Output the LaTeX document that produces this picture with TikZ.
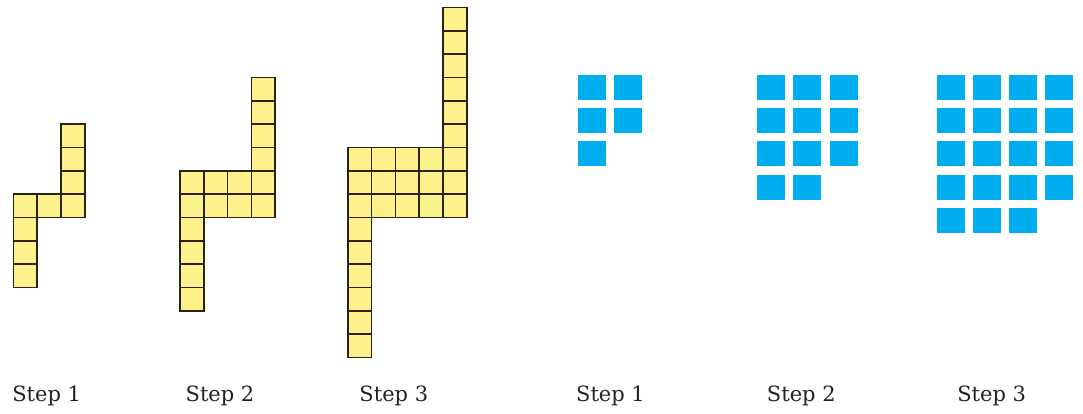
\documentclass[tikz,border=0pt]{standalone}
\usepackage{fontspec}
\setmainfont{DejaVu Serif}
\definecolor{tile}{HTML}{FDF18C}
\definecolor{tileedge}{HTML}{2B2212}
\definecolor{dot}{HTML}{00AEEF}
\definecolor{txt}{HTML}{222222}
\tikzset{
  ytile/.style={fill=tile,draw=tileedge,line width=1.6pt},
  btile/.style={fill=dot},
  lab/.style={font=\fontsize{21}{25}\selectfont,text=txt,anchor=base,inner sep=0pt}
}
\begin{document}
\begin{tikzpicture}[x=1pt,y=-1pt]
\useasboundingbox (0,0) rectangle (1083,413);
% yellow tile patterns
\foreach \x/\C/\B/\A in {13.3/3/1/3, 180/4/2/4, 347.7/5/3/6} {
  \foreach \c in {1,...,\C} {
    \foreach \b in {1,...,\B} {
      \draw[ytile] ({\x+(\c-1)*23.8},{217.5-\b*23.35}) rectangle ++(23.8,23.35);
    }
  }
  \foreach \a in {1,...,\A} {
    \draw[ytile] ({\x+(\C-1)*23.8},{217.5-(\B+\a)*23.35}) rectangle ++(23.8,23.35);
    \draw[ytile] (\x,{217.5+(\a-1)*23.35}) rectangle ++(23.8,23.35);
  }
}
% blue tile patterns
\foreach \r/\n in {0/2,1/2,2/1} {
  \foreach \c in {1,...,\n} {
    \fill[btile] ({577.7+(\c-1)*36.3},{75+\r*33.2}) rectangle ++(28.2,25);
  }
}
\foreach \r/\n in {0/3,1/3,2/3,3/2} {
  \foreach \c in {1,...,\n} {
    \fill[btile] ({756.7+(\c-1)*36.5},{75+\r*33.2}) rectangle ++(28.2,25);
  }
}
\foreach \r/\n in {0/4,1/4,2/4,3/4,4/3} {
  \foreach \c in {1,...,\n} {
    \fill[btile] ({936.7+(\c-1)*36.1},{75+\r*33.2}) rectangle ++(28.2,25);
  }
}
% labels
\node[lab] (ya) at (46.7,401) {Step 1};
\node[lab] (yb) at (220,401) {Step 2};
\node[lab] (yc) at (393.8,401) {Step 3};
\node[lab] (ba) at (610.5,401) {Step 1};
\node[lab] (bb) at (801.3,401) {Step 2};
\node[lab] (bc) at (991.7,401) {Step 3};
\end{tikzpicture}
\end{document}
